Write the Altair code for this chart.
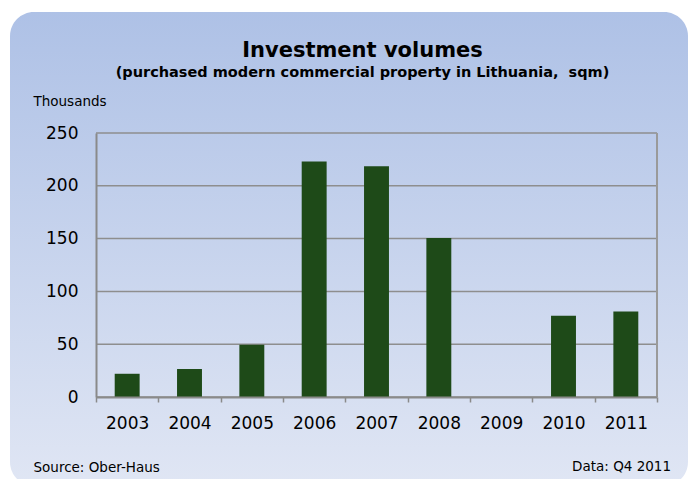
import altair as alt
import pandas as pd

years = ["2003", "2004", "2005", "2006", "2007", "2008", "2009", "2010", "2011"]
volumes = [22, 26.5, 49.5, 223, 218.5, 150.5, 0, 77, 81]
y_ticks = [0, 50, 100, 150, 200, 250]

df = pd.DataFrame({"year": years, "value": volumes})
grid_df = pd.DataFrame({"v": y_ticks})

W, H = 561, 264
GRID = "#8e8e8e"

yscale = alt.Scale(domain=[0, 250], nice=False)
yaxis = alt.Axis(values=y_ticks, title="Thousands", titleX=-63, titleY=-32,
                 titleAlign="left", titleBaseline="middle", titleAngle=0,
                 titleFontSize=13.5, titleFontWeight="normal",
                 titleColor="#000000",
                 labelFontSize=17, labelColor="#000000", labelPadding=18,
                 ticks=False, tickSize=0, grid=False,
                 domainColor="#8a8a8a", domainWidth=2, zindex=1)

bg = alt.Chart(pd.DataFrame({"a": [0]})).mark_rect(
    color=alt.LinearGradient(
        gradient="linear",
        stops=[alt.GradientStop(color="#AEC1E6", offset=0),
               alt.GradientStop(color="#E0E6F4", offset=1)],
        x1=0, x2=0, y1=0, y2=1,
    ),
    cornerRadius=24,
).encode(
    x=alt.value(-86), x2=alt.value(592),
    y=alt.value(-121), y2=alt.value(353),
)

grid = alt.Chart(grid_df).mark_rule(color=GRID, strokeWidth=1.5).encode(
    y=alt.Y("v:Q", scale=yscale, axis=yaxis, title="Thousands"),
    x=alt.value(0), x2=alt.value(W),
)

right_border = alt.Chart(pd.DataFrame({"a": [0]})).mark_rule(
    color="#9a9a9a", strokeWidth=2
).encode(x=alt.value(W), y=alt.value(0), y2=alt.value(H))

bars = alt.Chart(df).mark_bar(
    color="#1E4A18",
    width=alt.RelativeBandSize(0.4),
).encode(
    x=alt.X("year:N", sort=years,
            scale=alt.Scale(paddingInner=0, paddingOuter=0),
            axis=alt.Axis(title="Source: Ober-Haus", titleX=-63, titleY=70,
                          titleAlign="left", titleBaseline="middle", titleAngle=0,
                          titleFontSize=13.5, titleFontWeight="normal",
                          titleColor="#000000",
                          labelAngle=0, labelFontSize=17, labelColor="#000000",
                          labelPadding=13, tickBand="extent", tickSize=5,
                          tickColor="#8a8a8a", tickWidth=1.5,
                          domainColor="#8a8a8a", domainWidth=2, zindex=1)),
    y=alt.Y("value:Q", scale=yscale, axis=yaxis, title="Thousands"),
)

note = alt.Chart(pd.DataFrame({"t": ["Data: Q4 2011"]})).mark_text(
    align="right", baseline="middle", fontSize=13.5, color="#000000",
    font="DejaVu Sans",
).encode(
    x=alt.value(575), y=alt.value(334), text="t:N",
)

chart = alt.layer(bg, grid, right_border, bars, note).properties(
    width=W, height=H,
    autosize=alt.AutoSizeParams(type="none"),
    padding={"left": 88, "top": 125, "right": 31, "bottom": 82},
    background="#ffffff",
    title=alt.TitleParams(
        text="Investment volumes",
        subtitle="(purchased modern commercial property in Lithuania,\u00a0 sqm)",
        anchor="middle", dx=-14, offset=-67,
        fontSize=21, fontWeight="bold", color="#000000",
        subtitleFontSize=14.5, subtitleFontWeight="bold", subtitleColor="#000000",
        subtitlePadding=5,
    ),
).configure(
    font="DejaVu Sans",
).configure_view(
    stroke=None,
)

chart.save("out.html", embed_options={"renderer": "svg", "actions": False})
